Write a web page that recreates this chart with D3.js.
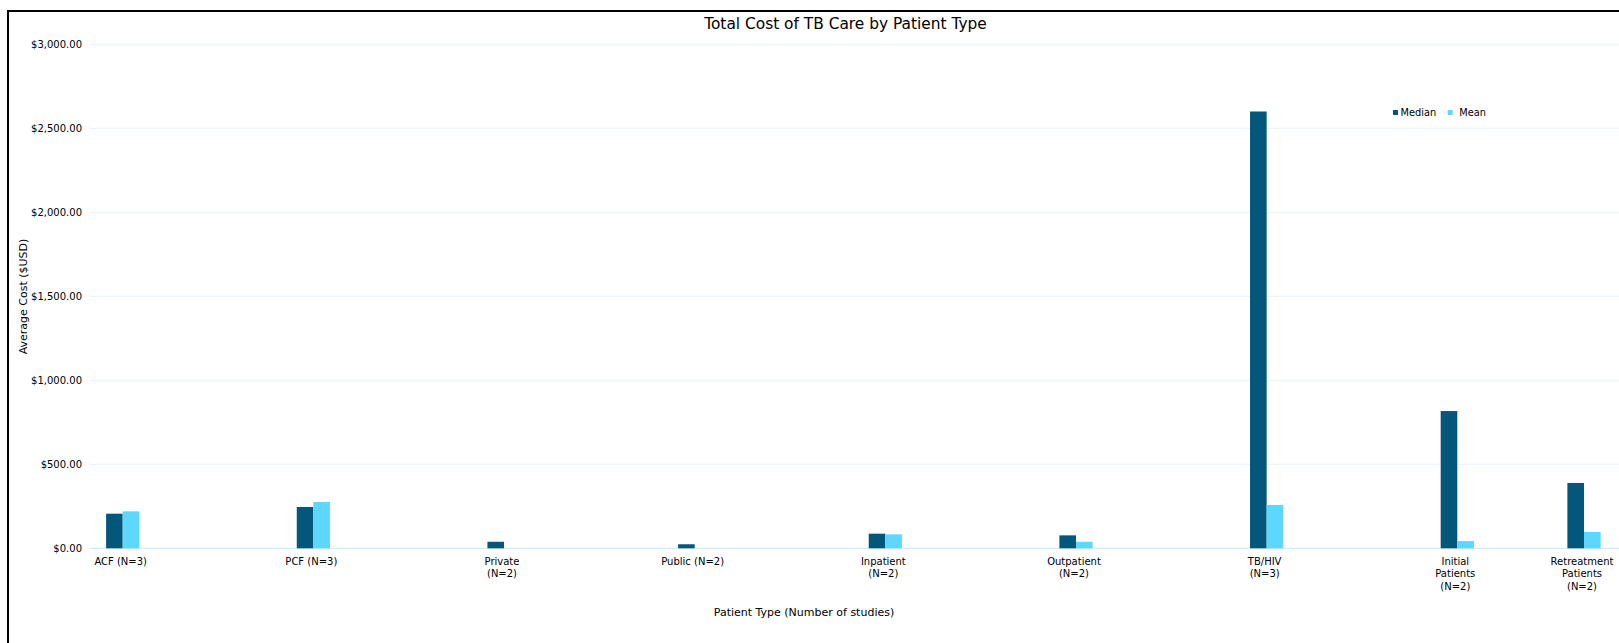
<!DOCTYPE html>
<html>
<head>
<meta charset="utf-8">
<script src="https://cdn.jsdelivr.net/npm/d3@7"></script>
<style>
  html, body { margin: 0; padding: 0; background: #ffffff; }
  svg { display: block; font-family: "DejaVu Sans", Verdana, sans-serif; }
</style>
</head>
<body>
<svg id="chart" width="1619" height="643"></svg>
<script>
// ---- data ----
const categories = [
  "ACF (N=3)", "PCF (N=3)", "Private (N=2)", "Public (N=2)", "Inpatient (N=2)",
  "Outpatient (N=2)", "TB/HIV (N=3)", "Initial Patients (N=2)", "Retreatment Patients (N=2)"
];
const categoryLines = [
  ["ACF (N=3)"], ["PCF (N=3)"], ["Private", "(N=2)"], ["Public (N=2)"], ["Inpatient", "(N=2)"],
  ["Outpatient", "(N=2)"], ["TB/HIV", "(N=3)"], ["Initial", "Patients", "(N=2)"], ["Retreatment", "Patients", "(N=2)"]
];
const medianValues = [206, 246, 39, 24, 87, 77, 2600, 817, 389];
const meanValues   = [220, 276, null, null, 83, 39, 258, 43, 97];
const seriesNames  = ["Median", "Mean"];
const yTicks = [0, 500, 1000, 1500, 2000, 2500, 3000];
const titleText = "Total Cost of TB Care by Patient Type";
const xTitle = "Patient Type (Number of studies)";
const yTitle = "Average Cost ($USD)";

// ---- layout ----
const W = 1619, H = 643;
const plotLeft = 90, plotRight = 1619;
const colors = { Median: "#02577b", Mean: "#5dd7fe" };
const svg = d3.select("#chart");

svg.append("rect").attr("x", 0).attr("y", 0).attr("width", W).attr("height", H).attr("fill", "#ffffff");
// chart frame (cropped on right/bottom)
svg.append("rect").attr("x", 8).attr("y", 11).attr("width", W + 20).attr("height", H + 20)
  .attr("fill", "none").attr("stroke", "#000").attr("stroke-width", 2);

const y = d3.scaleLinear().domain([0, 3000]).range([548.3, 44.3]);
// category index -> center position (last category sits closer, as in the source)
const xi = d3.scaleLinear().domain([0, 7, 8]).range([122.7, 1457.3, 1584]);
const bw = 16.6;

// gridlines
svg.append("g").selectAll("line").data(yTicks).join("line")
  .attr("x1", plotLeft).attr("x2", plotRight)
  .attr("y1", d => y(d)).attr("y2", d => y(d))
  .attr("stroke", d => d === 0 ? "#c3ecfb" : "#e6f3f9")
  .attr("stroke-width", 1);

// y tick labels
const yAxis = d3.axisLeft(y).tickValues(yTicks).tickSize(0).tickPadding(8)
  .tickFormat(d => "$" + d3.format(",.2f")(d));
const ga = svg.append("g").attr("transform", `translate(${plotLeft},0)`).call(yAxis);
ga.select(".domain").remove();
ga.selectAll("text").attr("font-size", 10).attr("fill", "#000").attr("font-family", "DejaVu Sans");

// bars
const idx = d3.range(categories.length);
svg.append("g").selectAll("rect").data(idx).join("rect")
  .attr("x", i => xi(i) - bw).attr("width", bw)
  .attr("y", i => y(medianValues[i])).attr("height", i => y(0) - y(medianValues[i]))
  .attr("fill", colors.Median);
svg.append("g").selectAll("rect").data(idx.filter(i => meanValues[i] != null)).join("rect")
  .attr("x", i => xi(i)).attr("width", bw)
  .attr("y", i => y(meanValues[i])).attr("height", i => y(0) - y(meanValues[i]))
  .attr("fill", colors.Mean);

// category labels
const cl = svg.append("g").selectAll("text").data(idx).join("text")
  .attr("x", i => xi(i) - 2).attr("y", 565)
  .attr("text-anchor", "middle").attr("font-size", 10).attr("fill", "#000");
cl.each(function(i) {
  const t = d3.select(this);
  categoryLines[i].forEach((ln, k) => {
    t.append("tspan").attr("x", xi(i) - 2).attr("dy", k === 0 ? 0 : 12.3).text(ln);
  });
});

// titles
svg.append("text").attr("x", 845.5).attr("y", 28.5).attr("text-anchor", "middle")
  .attr("font-size", 15.4).attr("fill", "#000").text(titleText);
svg.append("text").attr("x", 804).attr("y", 615.5).attr("text-anchor", "middle")
  .attr("font-size", 11).attr("fill", "#000").text(xTitle);
svg.append("text").attr("transform", "translate(26.5,296.5) rotate(-90)").attr("text-anchor", "middle")
  .attr("font-size", 11).attr("fill", "#000").text(yTitle);

// legend
const legX = [1393, 1447.7];
const lg = svg.append("g").selectAll("g").data(seriesNames).join("g")
  .attr("transform", (d, k) => `translate(${legX[k]},110)`);
lg.append("rect").attr("width", 5).attr("height", 5).attr("fill", d => colors[d]);
lg.append("text").attr("x", (d, k) => k === 0 ? 7.5 : 11.5).attr("y", 6.3)
  .attr("font-size", 9.8).attr("fill", "#000").text(d => d);
</script>
</body>
</html>
